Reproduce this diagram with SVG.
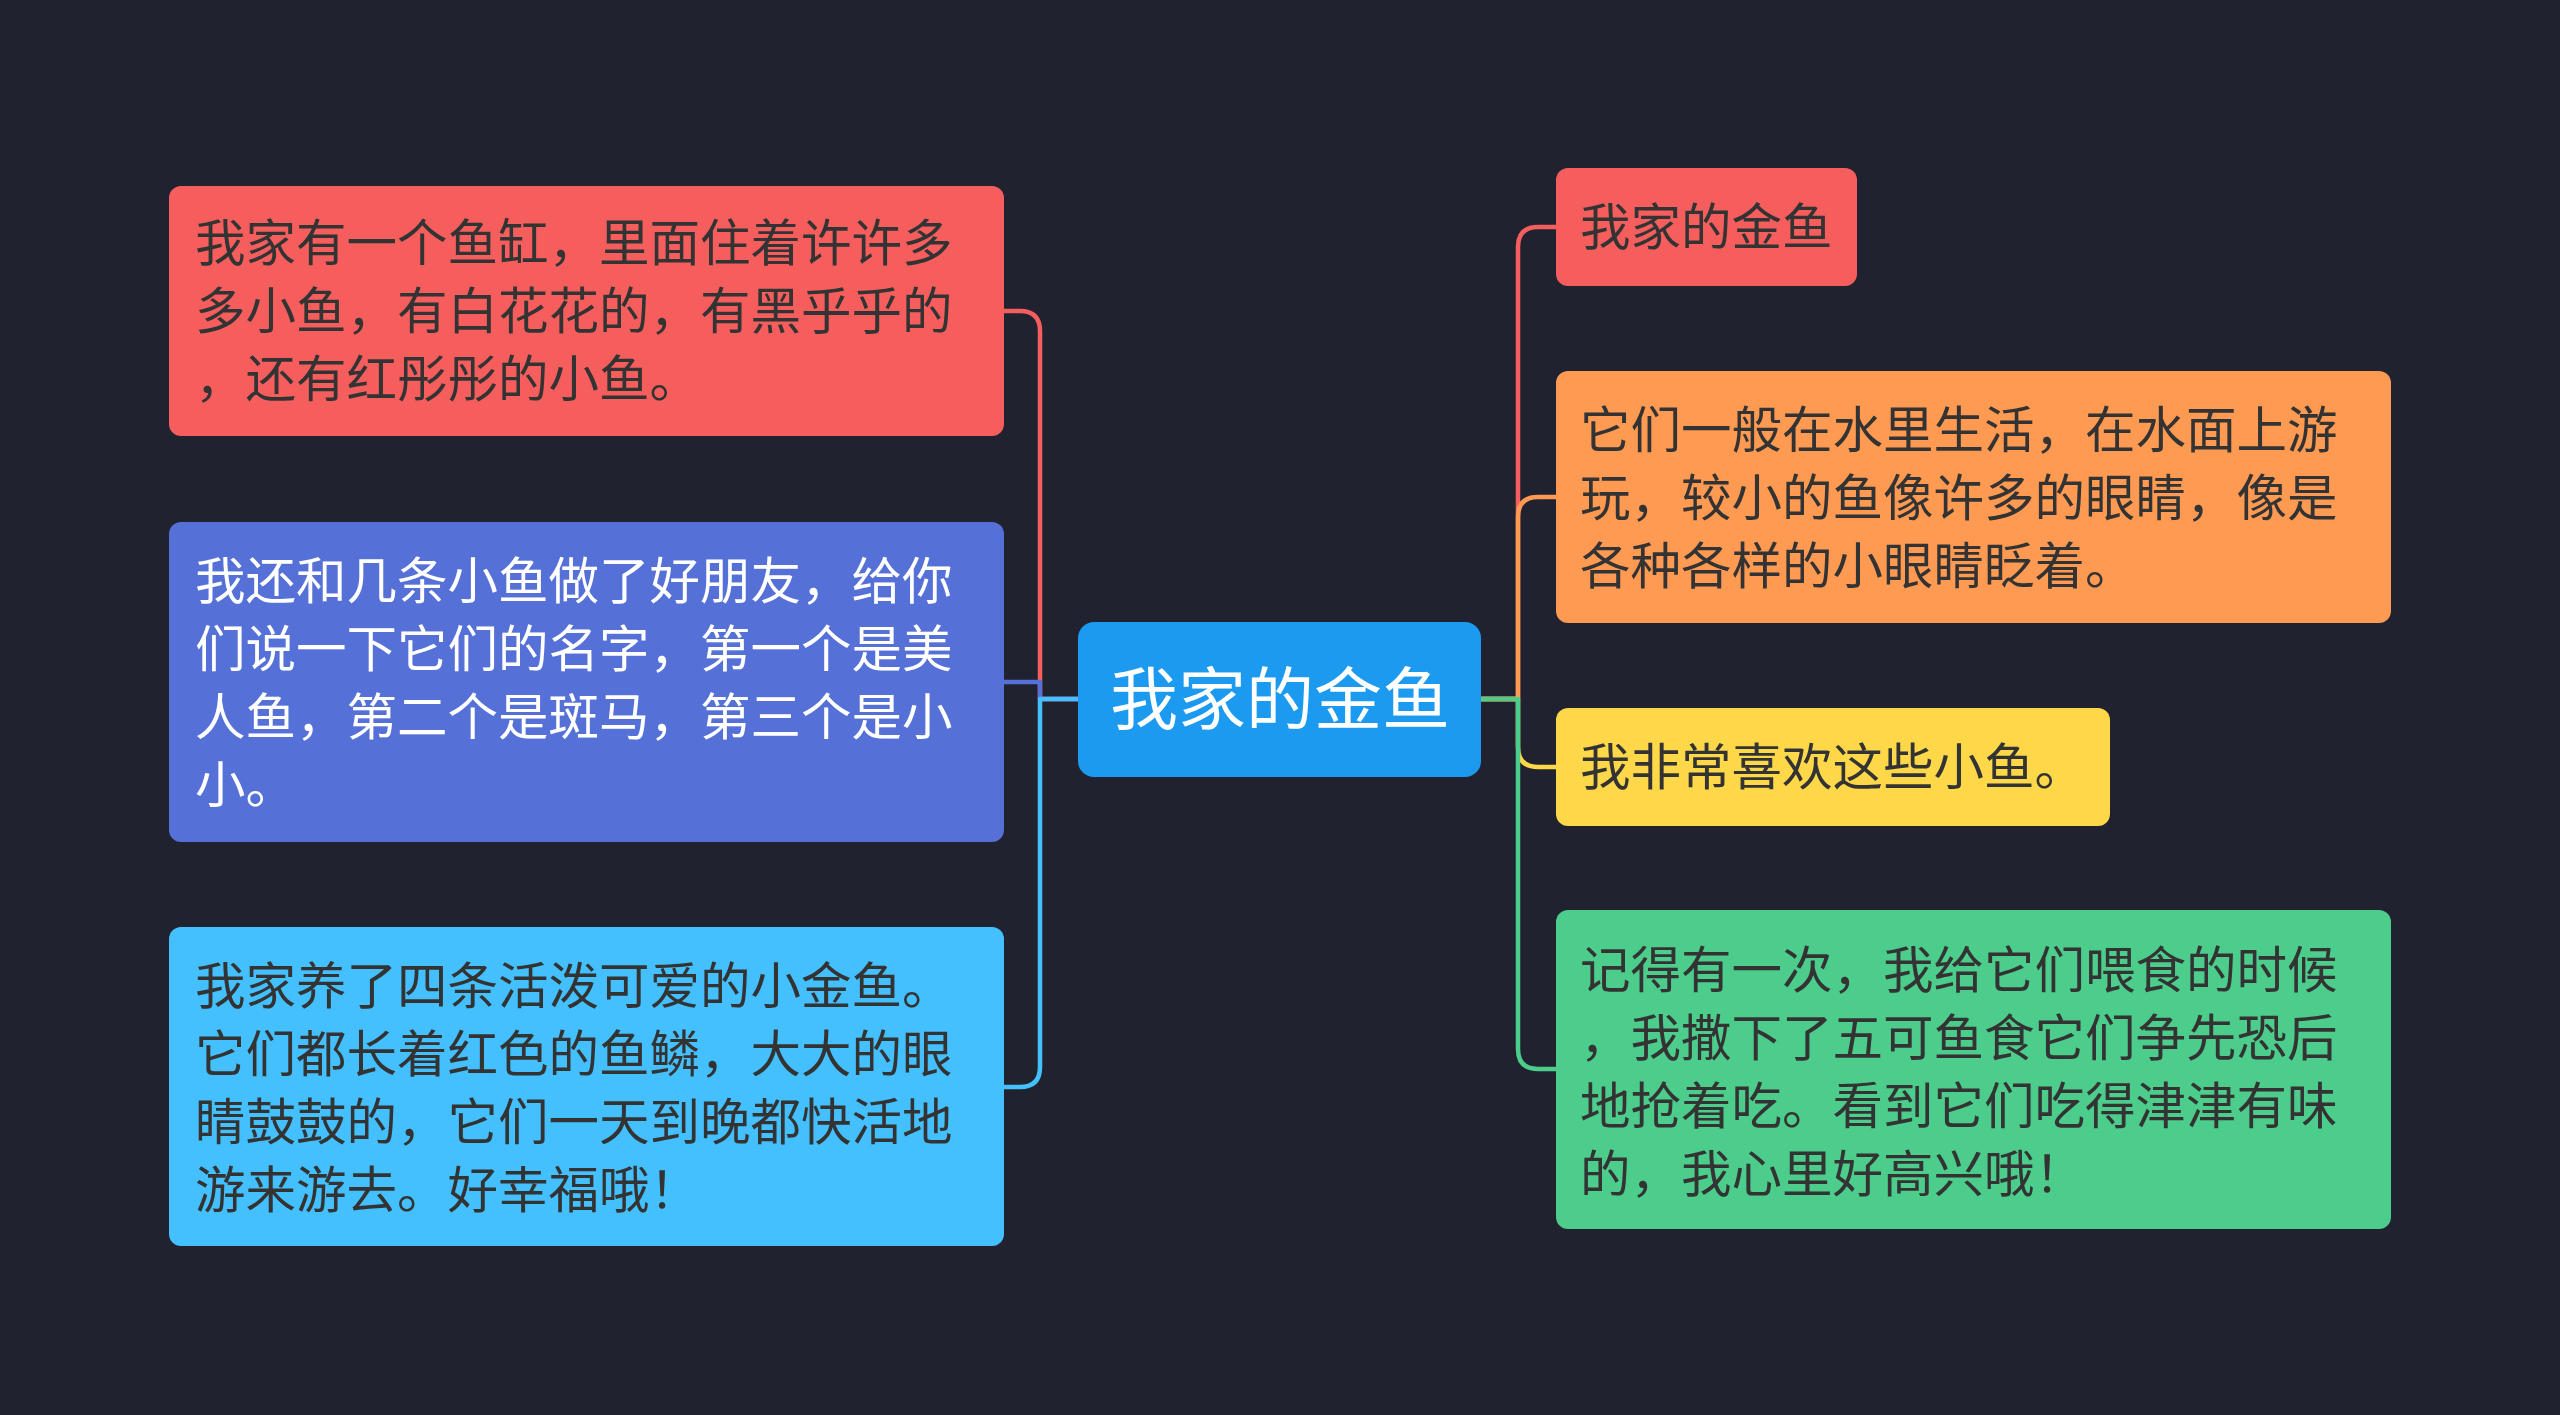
<svg xmlns="http://www.w3.org/2000/svg" width="2560" height="1415" viewBox="0 0 2560 1415">
<style>
.bg{fill:#20232F}
.c{fill:none;stroke-width:4.5;stroke-linecap:round;stroke-linejoin:round}
.t{font-family:"Noto Sans CJK SC","Noto Sans",sans-serif;font-size:50.5px;fill:#333333}
.w{fill:#FFFFFF}
.root{font-size:68px;text-anchor:middle}
</style>
<rect class="bg" x="0" y="0" width="2560" height="1415"/>
<g id="connectors">
  <path class="c" stroke="#F45E5E" d="M1078,699 H1040 V331 Q1040,311 1020,311 H1004"/>
  <path class="c" stroke="#5570D6" d="M1078,699 H1040 V682 H1004"/>
  <path class="c" stroke="#44C0FF" d="M1078,699 H1040 V1067 Q1040,1087 1020,1087 H1004"/>
  <path class="c" stroke="#F45E5E" d="M1481,699 H1518 V247 Q1518,227 1538,227 H1556"/>
  <path class="c" stroke="#FF9A52" d="M1481,699 H1518 V517 Q1518,497 1538,497 H1556"/>
  <path class="c" stroke="#FFD84A" d="M1481,699 H1518 V747 Q1518,767 1538,767 H1556"/>
  <path class="c" stroke="#4CCD8C" d="M1481,699 H1518 V1049 Q1518,1069 1538,1069 H1556"/>
</g>
<g id="root">
  <rect x="1078" y="622" width="403" height="155" rx="16" fill="#1B9AEF"/>
  <text class="t w root" x="1280" y="724">我家的金鱼</text>
</g>
<g id="left1">
  <rect x="169" y="186" width="835" height="250" rx="12" fill="#F65E5E"/>
  <text class="t" x="195" y="261">我家有一个鱼缸，里面住着许许多</text>
  <text class="t" x="195" y="329">多小鱼，有白花花的，有黑乎乎的</text>
  <text class="t" x="195" y="397">，还有红彤彤的小鱼。</text>
</g>
<g id="left2">
  <rect x="169" y="522" width="835" height="320" rx="12" fill="#5570D6"/>
  <text class="t w" x="195" y="599">我还和几条小鱼做了好朋友，给你</text>
  <text class="t w" x="195" y="667">们说一下它们的名字，第一个是美</text>
  <text class="t w" x="195" y="735">人鱼，第二个是斑马，第三个是小</text>
  <text class="t w" x="195" y="803">小。</text>
</g>
<g id="left3">
  <rect x="169" y="927" width="835" height="319" rx="12" fill="#44C0FF"/>
  <text class="t" x="195" y="1004">我家养了四条活泼可爱的小金鱼。</text>
  <text class="t" x="195" y="1072">它们都长着红色的鱼鳞，大大的眼</text>
  <text class="t" x="195" y="1140">睛鼓鼓的，它们一天到晚都快活地</text>
  <text class="t" x="195" y="1208">游来游去。好幸福哦！</text>
</g>
<g id="right1">
  <rect x="1556" y="168" width="301" height="118" rx="12" fill="#F65E5E"/>
  <text class="t" x="1580" y="245">我家的金鱼</text>
</g>
<g id="right2">
  <rect x="1556" y="371" width="835" height="252" rx="12" fill="#FF9A52"/>
  <text class="t" x="1580" y="448">它们一般在水里生活，在水面上游</text>
  <text class="t" x="1580" y="516">玩，较小的鱼像许多的眼睛，像是</text>
  <text class="t" x="1580" y="584">各种各样的小眼睛眨着。</text>
</g>
<g id="right3">
  <rect x="1556" y="708" width="554" height="118" rx="12" fill="#FFD84A"/>
  <text class="t" x="1580" y="785">我非常喜欢这些小鱼。</text>
</g>
<g id="right4">
  <rect x="1556" y="910" width="835" height="319" rx="12" fill="#4CCD8C"/>
  <text class="t" x="1580" y="988">记得有一次，我给它们喂食的时候</text>
  <text class="t" x="1580" y="1056">，我撒下了五可鱼食它们争先恐后</text>
  <text class="t" x="1580" y="1124">地抢着吃。看到它们吃得津津有味</text>
  <text class="t" x="1580" y="1192">的，我心里好高兴哦！</text>
</g>
</svg>
